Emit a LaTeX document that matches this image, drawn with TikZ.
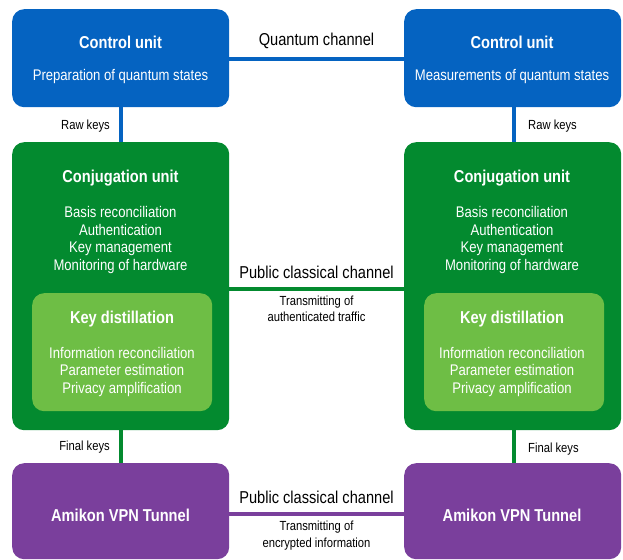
\documentclass[tikz,border=0pt]{standalone}
\usepackage{fontspec}
\setmainfont{Liberation Sans}[FakeStretch=0.85]
\definecolor{cublue}{HTML}{0563C1}
\definecolor{cjgreen}{HTML}{038A2F}
\definecolor{kdgreen}{HTML}{6EBE45}
\definecolor{vpnpurple}{HTML}{7A3F9C}
\tikzset{
  boxbase/.style={rectangle, rounded corners=12pt, inner sep=0pt, anchor=north west},
  title/.style={text=white, font=\fontsize{17.2}{20}\selectfont\bfseries, inner sep=0pt},
  body/.style={text=white, font=\fontsize{15.4}{17.7}\selectfont, align=center, inner sep=0pt},
  chlabel/.style={font=\fontsize{17.2}{20}\selectfont, inner sep=0pt},
  small/.style={font=\fontsize{13.2}{16.5}\selectfont, align=center, inner sep=0pt},
  link/.style={line width=4.5pt}
}
\begin{document}
\begin{tikzpicture}[x=1pt,y=-1pt]
\useasboundingbox (0,0) rectangle (623,559);
% boxes
\node[boxbase, fill=cublue, minimum width=217pt, minimum height=98pt] (cuL) at (12,9) {};
\node[boxbase, fill=cublue, minimum width=217pt, minimum height=98pt] (cuR) at (404,9) {};
\node[boxbase, fill=cjgreen, minimum width=217pt, minimum height=288pt] (cjL) at (12,142) {};
\node[boxbase, fill=cjgreen, minimum width=217pt, minimum height=288pt] (cjR) at (404,142) {};
\node[boxbase, fill=kdgreen, minimum width=180pt, minimum height=118pt] (kdL) at (32,293) {};
\node[boxbase, fill=kdgreen, minimum width=180pt, minimum height=118pt] (kdR) at (424,293) {};
\node[boxbase, fill=vpnpurple, minimum width=217pt, minimum height=96pt] (vpL) at (12,463) {};
\node[boxbase, fill=vpnpurple, minimum width=217pt, minimum height=96pt] (vpR) at (404,463) {};
% texts left
\node[title] (cuLt) at (120.5,42) {Control unit};
\node[body] (cuLb) at (120.5,77) {Preparation of quantum states};
\node[title] (cjLt) at (120.5,178) {Conjugation unit};
\node[body] (cjLb) at (120.5,240) {Basis reconciliation\\Authentication\\Key management\\Monitoring of hardware};
\node[title] (kdLt) at (122,319) {Key distillation};
\node[body] (kdLb) at (122,372) {Information reconciliation\\Parameter estimation\\Privacy amplification};
\node[title] (vpLt) at (120.5,515) {Amikon VPN Tunnel};
% texts right
\node[title] (cuRt) at (512,42) {Control unit};
\node[body] (cuRb) at (512,77) {Measurements of quantum states};
\node[title] (cjRt) at (512,178) {Conjugation unit};
\node[body] (cjRb) at (512,240) {Basis reconciliation\\Authentication\\Key management\\Monitoring of hardware};
\node[title] (kdRt) at (512,319) {Key distillation};
\node[body] (kdRb) at (512,372) {Information reconciliation\\Parameter estimation\\Privacy amplification};
\node[title] (vpRt) at (512,515) {Amikon VPN Tunnel};
% connectors
\coordinate (qy) at (0,59);
\coordinate (py) at (0,289);
\coordinate (vy) at (0,514);
\draw[link, cublue] (cuL.east |- qy) -- (cuR.west |- qy);
\draw[link, cjgreen] (cjL.east |- py) -- (cjR.west |- py);
\draw[link, vpnpurple] (vpL.east |- vy) -- (vpR.west |- vy);
\coordinate (lx) at (121,0);
\coordinate (rx) at (514,0);
\draw[link, cublue] (lx |- cuL.south) -- (lx |- cjL.north);
\draw[link, cublue] (rx |- cuR.south) -- (rx |- cjR.north);
\draw[link, cjgreen] (lx |- cjL.south) -- (lx |- vpL.north);
\draw[link, cjgreen] (rx |- cjR.south) -- (rx |- vpR.north);
% labels
\node[chlabel] (qlab) at (316.5,41) {Quantum channel};
\node[chlabel] (plab) at (316.5,272) {Public classical channel};
\node[small] (plab2) at (316.5,309) {Transmitting of\\authenticated traffic};
\node[chlabel] (vlab) at (316.5,497) {Public classical channel};
\node[small] (vlab2) at (316.5,535.5) {Transmitting of\\encrypted information};
\node[small, anchor=east] (rkL) at (110,126) {Raw keys};
\node[small, anchor=west] (rkR) at (528,126) {Raw keys};
\node[small, anchor=east] (fkL) at (110,447) {Final keys};
\node[small, anchor=west] (fkR) at (528,449) {Final keys};
\end{tikzpicture}
\end{document}
